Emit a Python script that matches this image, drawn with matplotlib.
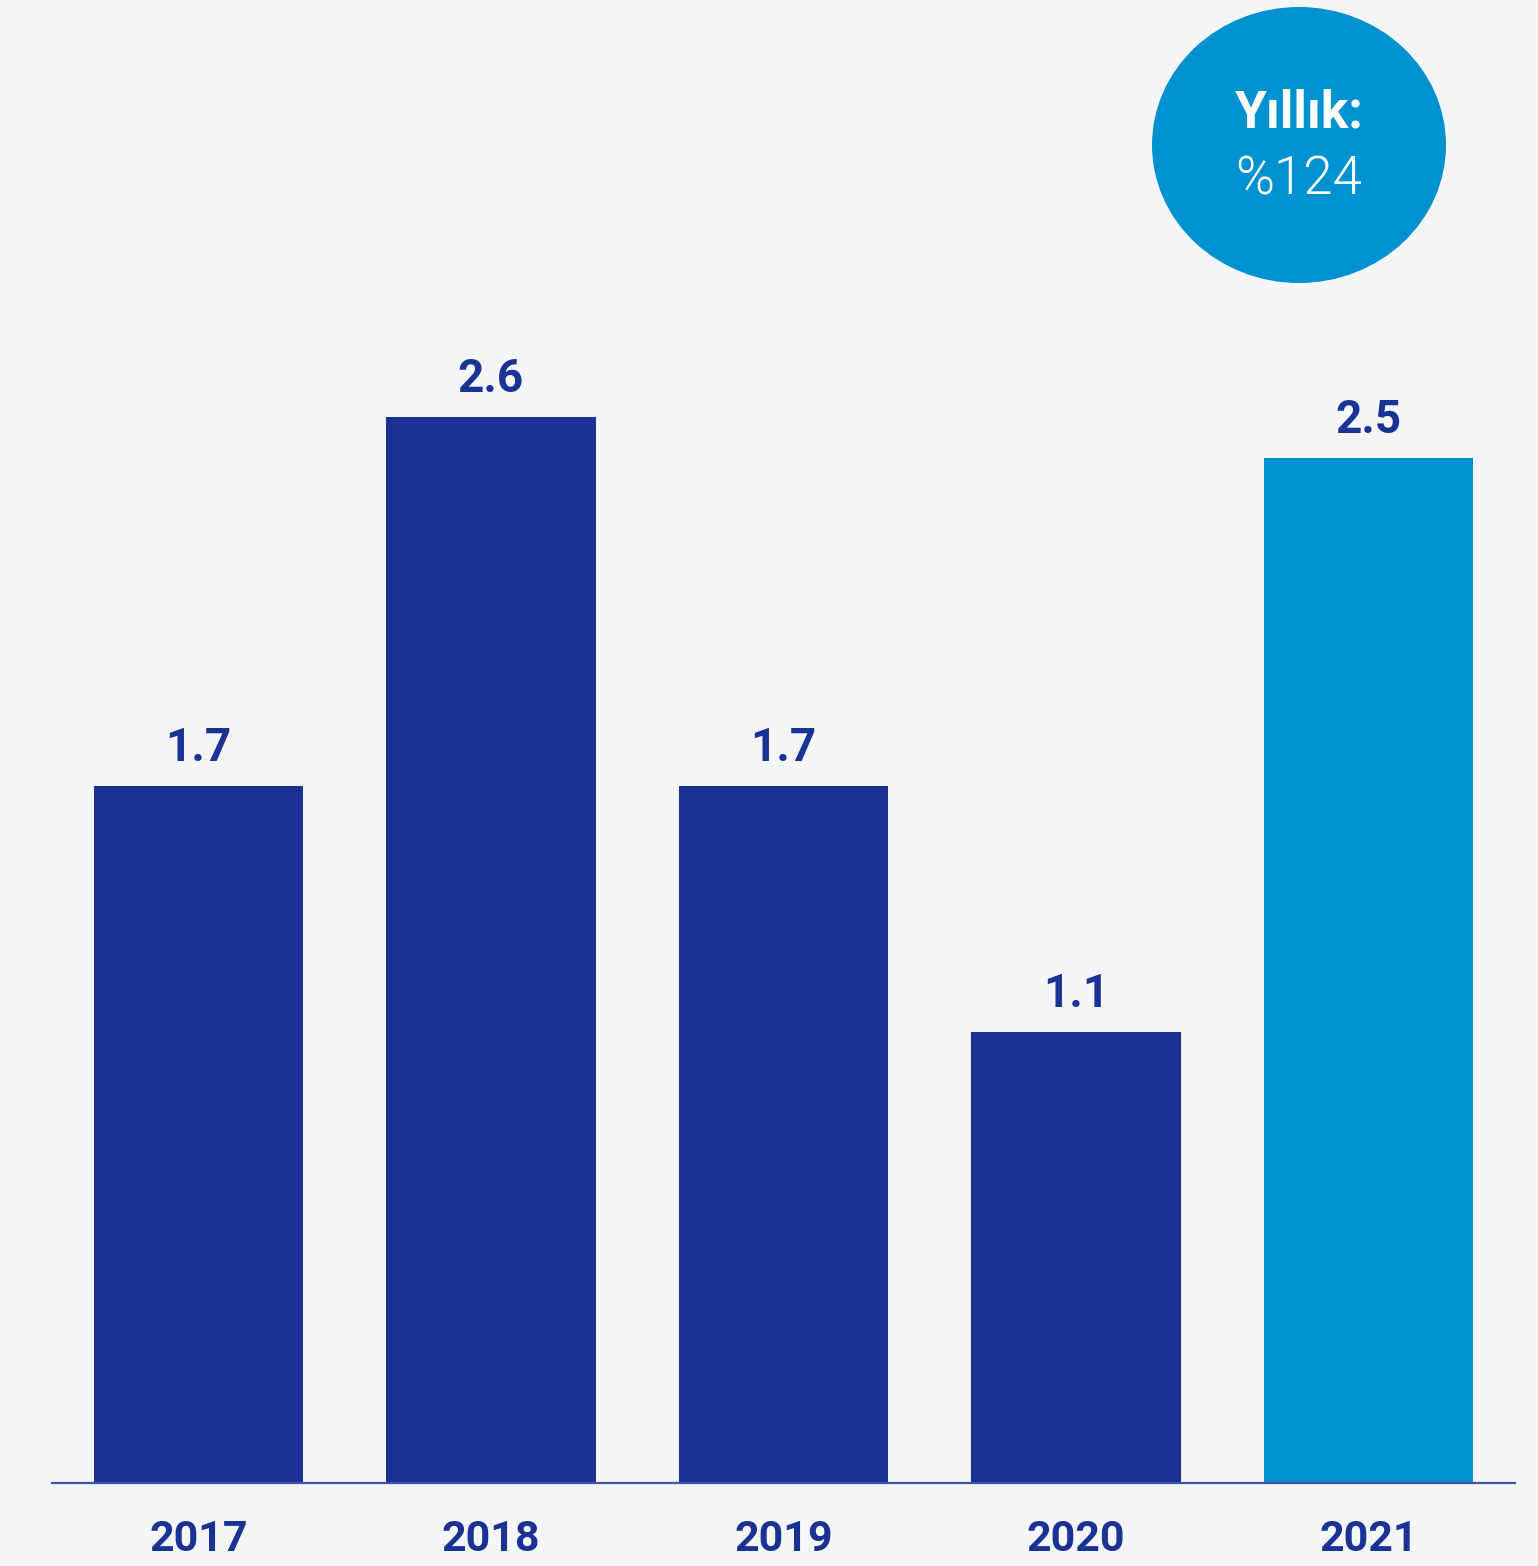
import matplotlib.pyplot as plt
from matplotlib.patches import Ellipse

years = ["2017", "2018", "2019", "2020", "2021"]
values = [1.7, 2.6, 1.7, 1.1, 2.5]
value_labels = ["1.7", "2.6", "1.7", "1.1", "2.5"]
badge_title = "Yıllık:"
badge_value = "%124"

DARK = "#1a3293"
LIGHT = "#0091d0"
BG = "#f3f5f7"
colors = [DARK, DARK, DARK, DARK, LIGHT]

plt.rcParams["font.family"] = ["Roboto", "DejaVu Sans"]

W, H = 1538, 1566
fig = plt.figure(figsize=(W / 100, H / 100), dpi=100, facecolor=BG)
ax = fig.add_axes([52 / W, (H - 1483) / H, (1515 - 52) / W, 1483 / H])
ax.set_facecolor(BG)

x = range(len(years))
ax.bar(x, values, width=0.715, color=colors, zorder=2)
ax.set_xlim(-0.5, 4.5)
ax.set_ylim(0, 1483 / 410)

for xi, v, lab in zip(x, values, value_labels):
    ax.text(xi, v + 0.04, lab, ha="center", va="bottom", fontsize=33,
            fontweight=600, color=DARK)

for s in ["top", "right", "left"]:
    ax.spines[s].set_visible(False)
ax.spines["bottom"].set_color("#3c55a8")
ax.spines["bottom"].set_linewidth(1.6)
ax.spines["bottom"].set_zorder(3)
ax.set_yticks([])
ax.set_xticks(list(x))
ax.set_xticklabels(years, fontsize=31, fontweight=600, color=DARK)
ax.tick_params(axis="x", length=0, pad=26)

# badge in the top-right corner
cx, cy = 1299 / W, 1 - 145 / H
fig.patches.append(Ellipse((cx, cy), 294 / W, 276 / H, transform=fig.transFigure,
                           facecolor=LIGHT, edgecolor="none", zorder=5))
fig.text(cx, 1 - 113 / H, badge_title, ha="center", va="center", fontsize=37,
         fontweight="bold", color="white", zorder=6)
fig.text(cx, 1 - 180 / H, badge_value, ha="center", va="center", fontsize=38,
         fontweight=300, color="white", zorder=6)

fig.savefig("out.png", dpi=100, facecolor=BG)
